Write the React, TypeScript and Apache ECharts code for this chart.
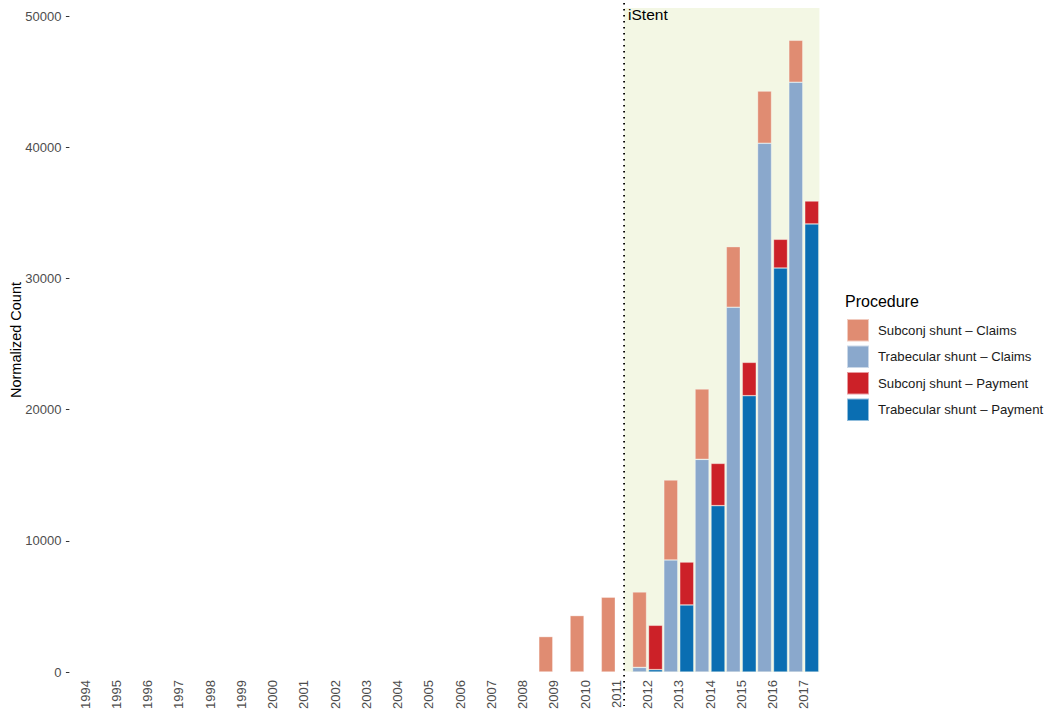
import React, { useEffect, useRef } from 'react';
import * as echarts from 'echarts';

const years = [
  '1994', '1995', '1996', '1997', '1998', '1999', '2000', '2001', '2002', '2003', '2004', '2005',
  '2006', '2007', '2008', '2009', '2010', '2011', '2012', '2013', '2014', '2015', '2016', '2017',
];
const subconjClaims = [0, 0, 0, 0, 0, 0, 0, 0, 0, 0, 0, 0, 0, 0, 0, 2700, 4300, 5700, 5750, 6090, 5360, 4620, 3980, 3200];
const trabecularClaims = [0, 0, 0, 0, 0, 0, 0, 0, 0, 0, 0, 0, 0, 0, 0, 0, 0, 0, 350, 8540, 16210, 27800, 40300, 44950];
const subconjPayment = [0, 0, 0, 0, 0, 0, 0, 0, 0, 0, 0, 0, 0, 0, 0, 0, 0, 0, 3380, 3270, 3220, 2540, 2190, 1750];
const trabecularPayment = [0, 0, 0, 0, 0, 0, 0, 0, 0, 0, 0, 0, 0, 0, 0, 0, 0, 0, 180, 5110, 12680, 21060, 30790, 34150];
const yTicks = [0, 10000, 20000, 30000, 40000, 50000];
const eventStart = 17.25; // iStent marker position (index units on x scale)
const eventLabel = 'iStent';

const C_SUB_CLAIMS = '#E08C72';
const C_TRAB_CLAIMS = '#8AA8CC';
const C_SUB_PAY = '#CC2128';
const C_TRAB_PAY = '#0A6EB2';

const FONT = '"Liberation Sans", Arial, Helvetica, sans-serif';

export default function App() {
  const ref = useRef<HTMLDivElement>(null);
  useEffect(() => {
    document.body.style.margin = '0';
    if (!ref.current) return;
    const chart = echarts.init(ref.current, undefined, { renderer: 'svg' });
    const barStyle = (color: string) => ({
      color,
      borderColor: 'rgba(255,255,255,0.55)',
      borderWidth: 0.6,
    });
    const grid = { left: 69.4, top: 8, width: 750, height: 664, outerBoundsMode: 'none', containLabel: false };
    chart.setOption({
      animation: false,
      backgroundColor: '#ffffff',
      textStyle: { fontFamily: FONT },
      grid,
      legend: {
        orient: 'vertical',
        left: 841,
        top: 313,
        padding: 5,
        itemWidth: 22,
        itemHeight: 22.5,
        itemGap: 2,
        icon: 'rect',
        selectedMode: false,
        data: ['Subconj shunt – Claims', 'Trabecular shunt – Claims', 'Subconj shunt – Payment', 'Trabecular shunt – Payment'],
        textStyle: { fontSize: 13.2, color: '#1a1a1a', fontFamily: FONT, padding: [0, 0, 0, 4] },
      },
      xAxis: [
        {
          type: 'category',
          data: years,
          axisLine: { show: false, onZero: false },
          axisTick: { show: false },
          axisLabel: { rotate: 90, fontSize: 13, color: '#4d4d4d', margin: 8, fontFamily: FONT },
          splitLine: { show: false },
        },
        {
          type: 'value',
          min: -0.5,
          max: 23.5,
          show: false,
          axisLine: { onZero: false },
        },
      ],
      yAxis: {
        type: 'value',
        min: 0,
        max: 50610,
        position: 'left',
        name: 'Normalized Count',
        nameLocation: 'middle',
        nameGap: 46,
        nameMoveOverlap: false,
        nameTextStyle: { fontSize: 14.5, color: '#000', fontFamily: FONT },
        axisLine: { show: false, onZero: false },
        axisTick: { show: true, length: 3.5, lineStyle: { color: '#333', width: 1 }, customValues: yTicks },
        axisLabel: {
          fontSize: 13,
          color: '#4d4d4d',
          margin: 8,
          fontFamily: FONT,
          customValues: yTicks,
          formatter: (v: number) => String(v),
        },
        splitLine: { show: false },
      },
      series: [
        {
          type: 'line',
          xAxisIndex: 1,
          yAxisIndex: 0,
          data: [[0, 0]],
          symbol: 'none',
          lineStyle: { opacity: 0 },
          silent: true,
          z: 0,
          markArea: {
            silent: true,
            itemStyle: { color: '#F3F7E4' },
            data: [[{ xAxis: eventStart }, { xAxis: 23.5 }]],
          },
        },
        {
          name: 'Trabecular shunt – Claims',
          type: 'bar',
          stack: 'claims',
          barWidth: 14,
          barGap: '14%',
          data: trabecularClaims,
          itemStyle: barStyle(C_TRAB_CLAIMS),
          z: 2,
        },
        {
          name: 'Subconj shunt – Claims',
          type: 'bar',
          stack: 'claims',
          barWidth: 14,
          barGap: '14%',
          data: subconjClaims,
          itemStyle: barStyle(C_SUB_CLAIMS),
          z: 2,
        },
        {
          name: 'Trabecular shunt – Payment',
          type: 'bar',
          stack: 'payment',
          barWidth: 14,
          barGap: '14%',
          data: trabecularPayment,
          itemStyle: barStyle(C_TRAB_PAY),
          z: 2,
        },
        {
          name: 'Subconj shunt – Payment',
          type: 'bar',
          stack: 'payment',
          barWidth: 14,
          barGap: '14%',
          data: subconjPayment,
          itemStyle: barStyle(C_SUB_PAY),
          z: 2,
        },
      ],
    });
    const px = chart.convertToPixel({ xAxisIndex: 1 }, eventStart) as number;
    chart.setOption({
      graphic: [
        {
          type: 'line',
          silent: true,
          z: 10,
          shape: { x1: px, y1: 3, x2: px, y2: 706 },
          style: { stroke: '#000', lineWidth: 1.8, lineDash: [1.6, 4.4] },
        },
        {
          type: 'text',
          x: px + 4,
          y: 6,
          z: 10,
          style: { text: eventLabel, fontSize: 15.5, fill: '#000', fontFamily: FONT },
        },
        {
          type: 'text',
          x: 845,
          y: 293,
          style: { text: 'Procedure', fontSize: 16, fill: '#000', fontFamily: FONT },
        },
      ],
    });
    return () => chart.dispose();
  }, []);
  return <div ref={ref} style={{ width: 1050, height: 719 }} />;
}
